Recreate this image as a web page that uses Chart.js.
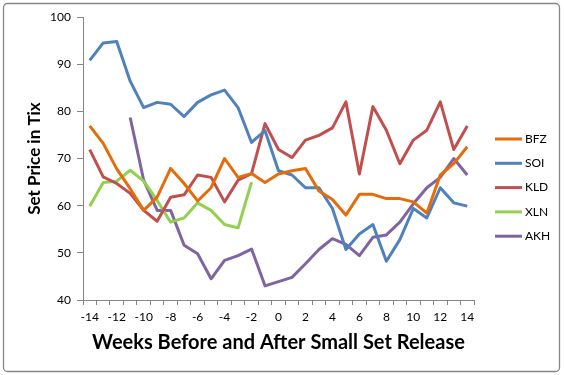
<!DOCTYPE html>
<html>
<head>
<meta charset="utf-8">
<script src="https://cdn.jsdelivr.net/npm/chart.js@4.4.1/dist/chart.umd.min.js"></script>
<style>
  html, body { margin: 0; padding: 0; background: #ffffff; }
  #wrap { width: 564px; height: 375px; }
</style>
</head>
<body>
<div id="wrap"><canvas id="c" width="564" height="375"></canvas></div>
<script>
const weeks = ['-14','-13','-12','-11','-10','-9','-8','-7','-6','-5','-4','-3','-2','-1','0','1','2','3','4','5','6','7','8','9','10','11','12','13','14'];
const BFZ = [76.9, 73.2, 67.8, 63.6, 59.0, 61.8, 67.9, 64.7, 61.0, 63.8, 70.0, 66.0, 66.8, 64.9, 66.7, 67.4, 67.9, 63.1, 61.3, 58.0, 62.4, 62.4, 61.5, 61.5, 60.8, 58.4, 66.5, 68.9, 72.5];
const SOI = [90.8, 94.5, 94.8, 86.4, 80.8, 81.9, 81.5, 78.9, 81.9, 83.5, 84.5, 80.8, 73.4, 75.9, 67.4, 66.5, 63.8, 63.8, 59.4, 50.7, 54.0, 56.0, 48.2, 52.8, 59.4, 57.4, 63.8, 60.6, 59.9];
const KLD = [71.9, 66.1, 64.7, 62.6, 59.0, 56.7, 61.8, 62.3, 66.5, 66.0, 60.8, 65.4, 66.8, 77.4, 71.9, 70.2, 73.9, 74.9, 76.5, 82.0, 66.7, 81.0, 76.0, 68.9, 73.9, 76.0, 82.0, 71.9, 76.9];
const XLN = [59.9, 64.9, 65.2, 67.5, 65.2, 61.1, 56.5, 57.4, 60.6, 59.0, 56.0, 55.3, 65.0, null, null, null, null, null, null, null, null, null, null, null, null, null, null, null, null];
const AKH = [null, null, null, 78.7, 65.4, 59.0, 59.0, 51.6, 49.8, 44.5, 48.4, 49.4, 50.8, 43.0, 43.9, 44.8, 47.7, 50.7, 53.0, 51.8, 49.4, 53.3, 53.8, 56.5, 60.4, 63.8, 66.0, 70.0, 66.5];
const seriesNames = ['BFZ', 'SOI', 'KLD', 'XLN', 'AKH'];
const seriesColors = ['#E46C0A', '#4F81BD', '#C0504D', '#92D050', '#8064A2'];
const yTicks = [40, 50, 60, 70, 80, 90, 100];

const FONT = 'Lato, "Open Sans", "Liberation Sans", sans-serif';
const GREY = '#868686';

const frame = {
  id: 'frame',
  beforeDraw(chart) {
    const ctx = chart.ctx;
    ctx.save();
    ctx.fillStyle = '#fff';
    ctx.fillRect(0, 0, chart.width, chart.height);
    ctx.strokeStyle = GREY;
    ctx.lineWidth = 1.3;
    ctx.beginPath();
    ctx.roundRect(3.5, 3.5, 556, 368, 4);
    ctx.stroke();
    ctx.restore();
  }
};

const legendPlugin = {
  id: 'customLegend',
  afterDraw(chart) {
    const ctx = chart.ctx;
    ctx.save();
    ctx.font = '12px ' + FONT;
    ctx.textBaseline = 'middle';
    ctx.textAlign = 'left';
    chart.data.datasets.forEach((ds, i) => {
      const y = 139 + i * 24.3;
      ctx.strokeStyle = ds.borderColor;
      ctx.lineWidth = 3;
      ctx.beginPath();
      ctx.moveTo(495, y);
      ctx.lineTo(522, y);
      ctx.stroke();
      ctx.fillStyle = '#000';
      ctx.fillText(ds.label, 525, y);
    });
    ctx.restore();
  }
};

const allData = [BFZ, SOI, KLD, XLN, AKH];

new Chart(document.getElementById('c'), {
  type: 'line',
  data: {
    labels: weeks,
    datasets: allData.map((d, i) => ({
      label: seriesNames[i],
      data: d,
      borderColor: seriesColors[i],
      backgroundColor: seriesColors[i],
      borderWidth: 3,
      pointRadius: 0,
      tension: 0,
      spanGaps: false,
      borderJoinStyle: 'round',
      borderCapStyle: 'butt'
    }))
  },
  options: {
    responsive: false,
    animation: false,
    events: [],
    layout: { padding: { left: 0, right: 90, top: 17, bottom: 0 } },
    plugins: { legend: { display: false }, tooltip: { enabled: false } },
    scales: {
      x: {
        type: 'category',
        offset: true,
        grid: { offset: true, drawOnChartArea: false, drawTicks: true, tickLength: 5, color: GREY, tickColor: GREY },
        border: { color: GREY, width: 1 },
        ticks: {
          autoSkip: false, maxRotation: 0, minRotation: 0, padding: 5,
          color: '#000', font: { size: 12, family: FONT },
          callback: function (v, i) { return i % 2 === 0 ? this.getLabelForValue(v) : ''; }
        },
        title: {
          display: true, text: 'Weeks Before and After Small Set Release', color: '#000',
          font: { size: 20, weight: 'bold', family: FONT }, padding: { top: 0, bottom: 20 }
        },
        afterFit(s) { s.height = 75; }
      },
      y: {
        min: 40, max: 100,
        afterBuildTicks(s) { s.ticks = yTicks.map(v => ({ value: v })); },
        grid: { drawOnChartArea: false, drawTicks: true, tickLength: 6, color: GREY, tickColor: GREY },
        border: { color: GREY, width: 1 },
        ticks: { padding: 6, color: '#000', font: { size: 12, family: FONT } },
        title: {
          display: true, text: 'Set Price in Tix', color: '#000',
          font: { size: 17, weight: 'bold', family: FONT }, padding: { top: 24, bottom: 0 }
        },
        afterFit(s) { s.width = 83; }
      }
    }
  },
  plugins: [frame, legendPlugin]
});
</script>
</body>
</html>
